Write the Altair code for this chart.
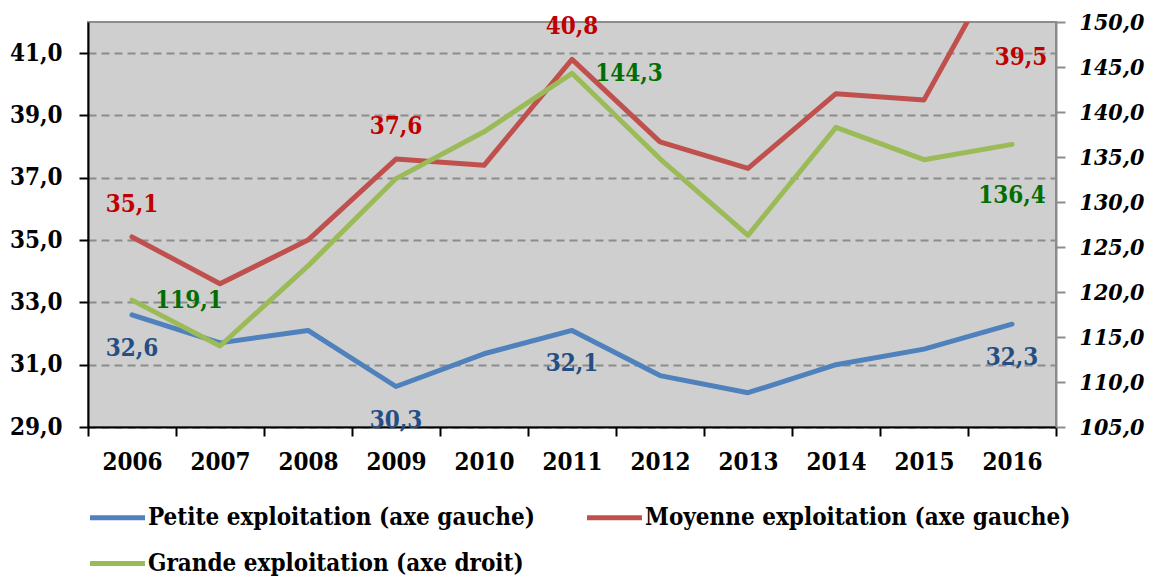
import altair as alt
import pandas as pd

years = [str(y) for y in range(2006, 2017)]
petite = [32.6, 31.7, 32.1, 30.3, 31.35, 32.1, 30.65, 30.1, 31.0, 31.5, 32.3]
moyenne = [35.1, 33.6, 35.0, 37.6, 37.4, 40.8, 38.15, 37.3, 39.7, 39.5, 44.6]
grande = [119.1, 114.0, 122.9, 132.6, 137.8, 144.3, 134.8, 126.3, 138.3, 134.7, 136.4]

series_petite = "Petite exploitation (axe gauche)"
series_moyenne = "Moyenne exploitation (axe gauche)"
series_grande = "Grande exploitation (axe droit)"
# legend is filled column by column: Petite / Grande in the first column
legend_order = [series_petite, series_grande, series_moyenne]
legend_colors = ["#4F81BD", "#9BBB59", "#C0504D"]

# years that carry a data label
red_above_years = ["2006", "2009", "2011"]
red_side_years = ["2015"]
blue_below_years = ["2006", "2009", "2011", "2016"]
green_right_years = ["2006", "2011"]
green_below_years = ["2016"]

FONT = "DejaVu Serif Condensed, Liberation Serif"
FS = 24


def fmt(v):
    return f"{v:.1f}".replace(".", ",")


def frame(values, name):
    return pd.DataFrame({"year": years, "value": values, "series": name,
                         "label": [fmt(v) for v in values]})


df_p = frame(petite, series_petite)
df_m = frame(moyenne, series_moyenne)
df_g = frame(grande, series_grande)
left_df = pd.concat([df_p, df_m], ignore_index=True)

label_expr = "replace(format(datum.value, '.1f'), '.', ',')"

x_enc = alt.X(
    "year:N",
    scale=alt.Scale(type="band", domain=years, paddingInner=0, paddingOuter=0),
    axis=alt.Axis(title=None, labelAngle=0, tickBand="extent", grid=False,
                  domainColor="black", domainWidth=2, tickColor="black",
                  tickWidth=2, tickSize=9, labelPadding=14, labelFont=FONT,
                  labelFontSize=FS, labelFontWeight="bold", labelColor="black"),
)

y_left = alt.Y(
    "value:Q",
    scale=alt.Scale(domain=[29, 42], nice=False, zero=False),
    axis=alt.Axis(title=None, orient="left", values=[29, 31, 33, 35, 37, 39, 41],
                  labelExpr=label_expr, grid=True, gridColor="#8C8C8C",
                  gridDash=[8, 5], gridWidth=2, domainColor="black",
                  domainWidth=2, tickColor="black", tickWidth=2, tickSize=9,
                  labelPadding=17, labelFont=FONT, labelFontSize=FS,
                  labelFontWeight="bold", labelColor="black"),
)

y_right = alt.Y(
    "value:Q",
    scale=alt.Scale(domain=[105, 150], nice=False, zero=False),
    axis=alt.Axis(title=None, orient="right", values=list(range(105, 151, 5)),
                  labelExpr=label_expr, grid=False, domainColor="#8C8C8C",
                  domainWidth=2, tickColor="#8C8C8C", tickWidth=2, tickSize=9,
                  labelPadding=14, labelFont=FONT, labelFontSize=23,
                  labelFontWeight="bold", labelFontStyle="italic",
                  labelColor="black"),
)

color_enc = alt.Color(
    "series:N",
    scale=alt.Scale(domain=legend_order, range=legend_colors),
    legend=alt.Legend(
        title=None, orient="none", legendX=13, legendY=479, columns=2,
        symbolType="M-2,0H2", symbolSize=756, symbolStrokeWidth=5,
        labelOffset=14, columnPadding=42, rowPadding=17, padding=0,
        labelFont=FONT, labelFontSize=FS, labelFontWeight="bold",
        labelColor="black", labelLimit=800,
    ),
)

line_kw = dict(strokeWidth=5, clip=True, strokeCap="round", strokeJoin="round")
text_kw = dict(font=FONT, fontSize=FS, fontWeight="bold", align="center",
               baseline="middle")

left_lines = alt.Chart(left_df).mark_line(**line_kw).encode(
    x=x_enc, y=y_left, color=color_enc)

red_above = alt.Chart(df_m[df_m.year.isin(red_above_years)]).mark_text(
    color="#C00000", dy=-32, **text_kw).encode(x=x_enc, y=y_left, text="label:N")
red_side = alt.Chart(df_m[df_m.year.isin(red_side_years)]).mark_text(
    color="#C00000", dx=97, dy=-42, **text_kw).encode(x=x_enc, y=y_left, text="label:N")
blue_below = alt.Chart(df_p[df_p.year.isin(blue_below_years)]).mark_text(
    color="#254E85", dy=34, **text_kw).encode(x=x_enc, y=y_left, text="label:N")

right_line = alt.Chart(df_g).mark_line(**line_kw).encode(
    x=x_enc, y=y_right, color=color_enc)
green_right = alt.Chart(df_g[df_g.year.isin(green_right_years)]).mark_text(
    color="#006E00", dx=57, dy=1, **text_kw).encode(x=x_enc, y=y_right, text="label:N")
green_below = alt.Chart(df_g[df_g.year.isin(green_below_years)]).mark_text(
    color="#006E00", dy=52, **text_kw).encode(x=x_enc, y=y_right, text="label:N")

left = alt.layer(left_lines, red_above, red_side, blue_below)
right = alt.layer(right_line, green_right, green_below)

chart = alt.layer(left, right).resolve_scale(y="independent").properties(
    width=968, height=405,
    autosize=alt.AutoSizeParams(type="none"),
    padding={"left": 80, "top": 14, "right": 93, "bottom": 149},
).configure_view(fill="#CFCFCF", stroke="#8C8C8C", strokeWidth=2)

chart.save("out.html", embed_options={"renderer": "svg", "actions": False})
